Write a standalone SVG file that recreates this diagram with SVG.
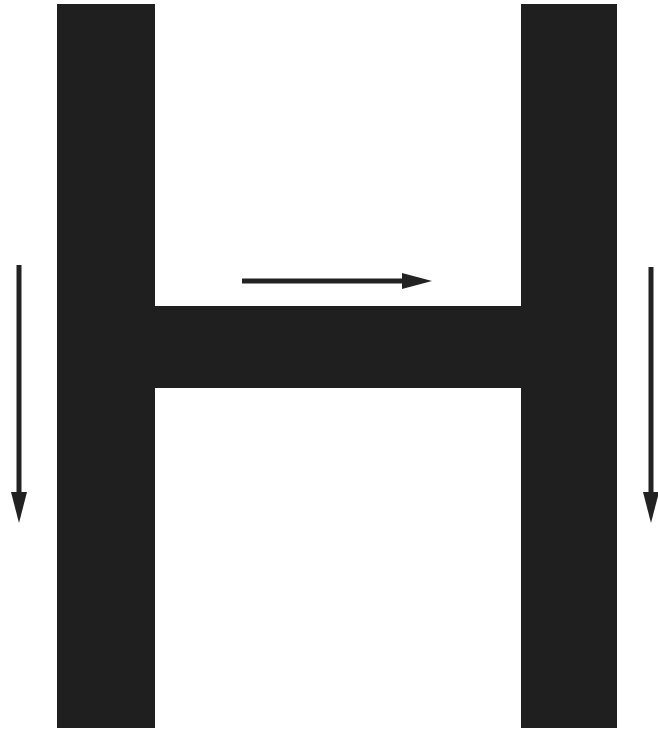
<svg xmlns="http://www.w3.org/2000/svg" width="658" height="729" viewBox="0 0 658 729">
  <style>
    .bar { fill: #1f1f1f; }
    .line { stroke: #222; stroke-width: 5; fill: none; }
    .head { fill: #222; }
  </style>
  <rect width="658" height="729" fill="#ffffff"/>
  <g id="letter-H">
    <path class="bar" d="M57,4 H155 V306 H521 V4 H617 V728 H521 V388 H155 V728 H57 Z"/>
  </g>
  <g id="connectors">
    <line class="line" x1="19" y1="265" x2="19" y2="496"/>
    <polygon class="head" points="11,492 27,492 19,523"/>
    <line class="line" x1="242" y1="281" x2="406" y2="281"/>
    <polygon class="head" points="402,273 432,281 402,289"/>
    <line class="line" x1="651" y1="267" x2="651" y2="496"/>
    <polygon class="head" points="643,492 659,492 651,523"/>
  </g>
</svg>
